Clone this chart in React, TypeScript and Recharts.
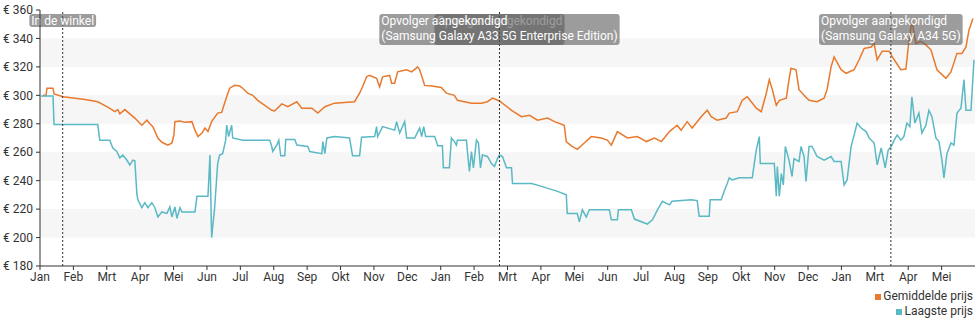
import React from 'react';
import { LineChart, Line, XAxis, YAxis, ReferenceArea, ReferenceLine } from 'recharts';

// maanden op de x-as (index = maand sinds start)
const MAANDEN = [
  'Jan', 'Feb', 'Mrt', 'Apr', 'Mei', 'Jun', 'Jul', 'Aug', 'Sep', 'Okt', 'Nov', 'Dec',
  'Jan', 'Feb', 'Mrt', 'Apr', 'Mei', 'Jun', 'Jul', 'Aug', 'Sep', 'Okt', 'Nov', 'Dec',
  'Jan', 'Mrt', 'Apr', 'Mei',
];
const MAAND_TICKS = MAANDEN.map((_, i) => i);
const PRIJS_TICKS = [180, 200, 220, 240, 260, 280, 300, 320, 340, 360];
const BANDEN = [[200, 220], [240, 260], [280, 300], [320, 340]];

const GEMIDDELD_T = [
  0.09, 0.18, 0.21, 0.39, 0.42, 0.69, 1.05, 1.35, 1.73, 2.0,
  2.15, 2.24, 2.33, 2.39, 2.54, 2.69, 2.84, 3.05, 3.2, 3.29,
  3.38, 3.53, 3.65, 3.83, 3.95, 4.01, 4.04, 4.19, 4.34, 4.55,
  4.64, 4.73, 4.85, 4.94, 5.03, 5.14, 5.32, 5.44, 5.59, 5.68,
  5.83, 5.98, 6.07, 6.22, 6.37, 6.52, 6.73, 6.94, 7.03, 7.24,
  7.42, 7.69, 7.84, 8.14, 8.32, 8.53, 8.82, 9.12, 9.42, 9.57,
  9.66, 9.78, 9.87, 10.08, 10.17, 10.26, 10.47, 10.53, 10.62, 10.71,
  10.98, 11.13, 11.31, 11.37, 11.52, 11.73, 12.02, 12.17, 12.41, 12.5,
  12.92, 13.22, 13.4, 13.55, 13.76, 14.12, 14.42, 14.66, 14.9, 15.2,
  15.41, 15.7, 15.76, 15.91, 16.09, 16.3, 16.51, 16.81, 16.99, 17.11,
  17.29, 17.59, 17.89, 18.16, 18.4, 18.61, 18.85, 19.08, 19.2, 19.38,
  19.53, 19.8, 19.98, 20.1, 20.28, 20.55, 20.64, 20.88, 21.03, 21.18,
  21.3, 21.45, 21.6, 21.75, 21.84, 21.93, 22.05, 22.14, 22.35, 22.43,
  22.49, 22.64, 22.73, 22.88, 23.03, 23.27, 23.48, 23.57, 23.69, 23.78,
  23.99, 24.14, 24.38, 24.53, 24.68, 24.89, 24.98, 25.07, 25.22, 25.43,
  25.58, 25.78, 25.93, 26.02, 26.11, 26.23, 26.38, 26.53, 26.68, 26.86,
  27.13, 27.28, 27.46, 27.61, 27.73, 27.82, 27.94,
];
const GEMIDDELD_PRIJS = [
  300, 300, 305, 305, 301, 299, 298, 297, 295.5, 292,
  290, 288.5, 290, 287, 290, 287, 284, 279, 282.5, 280,
  278, 270, 267, 265, 266.5, 272, 281.5, 282, 281, 281.5,
  275.5, 271, 273.5, 277, 274.5, 281.5, 287.5, 288, 299, 305,
  307, 306.5, 305, 301.5, 300, 296.5, 293, 289.5, 289, 294,
  292, 295.5, 291, 291, 287.5, 292, 294.5, 295, 295.5, 301.5,
  306, 313, 314, 312, 306, 313, 314, 308.5, 308.5, 316.5,
  318, 316.5, 320, 318, 307, 306.5, 305.5, 301.5, 300, 296.5,
  294.5, 294.5, 295.5, 298, 296, 289.5, 285, 286, 282.5, 284,
  281.5, 279, 267.5, 264.5, 262, 266.5, 271, 270, 268.5, 265,
  274.5, 270, 271, 267.5, 270, 267.5, 274.5, 279, 275.5, 281.5,
  277, 285, 289.5, 285, 282.5, 284, 287.5, 288.5, 296.5, 299,
  295.5, 291, 288.5, 301.5, 311, 304, 293, 296.5, 298, 311,
  319, 318, 304, 300, 296.5, 295.5, 298, 304, 320, 327,
  318, 315.5, 318, 325, 333, 334, 336.5, 325, 331, 331,
  325, 318, 318.5, 338, 352, 336.5, 338, 335.5, 332, 318,
  312, 316.5, 329.5, 329.5, 334, 346, 354,
];

const LAAGSTE_T = [
  0.03, 0.39, 0.42, 1.73, 1.79, 2.09, 2.18, 2.3, 2.39, 2.48,
  2.6, 2.69, 2.78, 2.84, 2.9, 2.93, 3.05, 3.14, 3.23, 3.35,
  3.44, 3.53, 3.65, 3.8, 3.89, 3.95, 4.04, 4.1, 4.19, 4.25,
  4.64, 4.7, 5.03, 5.09, 5.14, 5.23, 5.32, 5.38, 5.47, 5.56,
  5.59, 5.65, 5.68, 5.74, 5.77, 6.07, 6.88, 6.94, 6.97, 7.09,
  7.15, 7.21, 7.33, 7.36, 7.63, 7.69, 8.02, 8.08, 8.44, 8.47,
  8.53, 8.59, 8.82, 9.27, 9.36, 9.57, 9.63, 10.02, 10.08, 10.11,
  10.26, 10.62, 10.68, 10.77, 10.92, 10.98, 11.22, 11.37, 11.43, 11.49,
  11.55, 11.82, 11.91, 12.05, 12.08, 12.26, 12.32, 12.41, 12.47, 12.5,
  12.77, 12.8, 12.86, 12.92, 12.98, 13.07, 13.13, 13.19, 13.25, 13.4,
  13.52, 13.61, 13.7, 13.76, 13.85, 13.97, 14.12, 14.15, 14.72, 15.02,
  15.5, 15.76, 15.79, 16.09, 16.15, 16.24, 16.36, 16.45, 17.05, 17.11,
  17.29, 17.32, 17.71, 17.8, 18.19, 18.34, 18.49, 18.64, 18.85, 18.93,
  19.5, 19.68, 19.74, 20.04, 20.07, 20.4, 20.49, 20.58, 20.64, 20.73,
  20.94, 21.33, 21.39, 21.45, 21.54, 21.57, 21.99, 22.05, 22.08, 22.14,
  22.2, 22.26, 22.32, 22.43, 22.52, 22.58, 22.73, 22.79, 22.88, 22.94,
  23.03, 23.12, 23.27, 23.48, 23.69, 23.78, 23.99, 24.08, 24.17, 24.29,
  24.38, 24.47, 24.59, 24.74, 24.83, 24.98, 25.07, 25.19, 25.31, 25.4,
  25.49, 25.58, 25.67, 25.78, 25.87, 25.96, 26.05, 26.11, 26.2, 26.32,
  26.41, 26.53, 26.62, 26.71, 26.83, 26.92, 27.01, 27.07, 27.16, 27.28,
  27.37, 27.46, 27.58, 27.67, 27.73, 27.88, 27.97,
];
const LAAGSTE_PRIJS = [
  299.5, 299.5, 279.5, 279.5, 268.5, 268.5, 263, 260.5, 256, 258,
  254.5, 251, 254.5, 254, 231, 226.5, 221, 224.5, 221, 224.5,
  221, 214.5, 218, 217, 221.5, 214.5, 221.5, 213.5, 221, 218,
  218, 229, 229, 258, 200, 221, 252, 258, 259, 268.5,
  279, 271, 274, 279, 270, 268.5, 268.5, 264, 260.5, 265,
  268.5, 257.5, 257.5, 269, 269, 265, 264, 260.5, 259, 267.5,
  259, 270, 271, 270, 257.5, 257.5, 270.5, 271, 278, 271,
  278, 275.5, 281.5, 273.5, 281.5, 270, 270, 277, 271, 278,
  271, 271, 264.5, 264.5, 249, 249, 270, 267.5, 265, 268.5,
  268.5, 260.5, 246.5, 260.5, 249, 268.5, 266.5, 249, 258, 257,
  252, 250, 255.5, 258, 257, 249, 249, 238, 238, 236,
  232.5, 230, 217, 217, 211, 219.5, 214.5, 219.5, 219.5, 212.5,
  212.5, 219.5, 219.5, 213, 209.5, 212.5, 219.5, 225.5, 223, 225.5,
  226.5, 226, 215, 215, 226.5, 226.5, 232.5, 238, 242, 240.5,
  242, 242, 252, 261.5, 271, 252, 252, 229, 250, 229,
  245, 237, 264, 254.5, 243, 255.5, 253.5, 264, 257, 239.5,
  264, 264, 257, 254.5, 257, 253.5, 253.5, 237, 240.5, 264,
  272, 280.5, 277, 274.5, 270, 266.5, 251, 263, 249, 261.5,
  264, 268.5, 272, 268.5, 271, 280.5, 278, 299, 280.5, 287.5,
  273.5, 279, 289.5, 285, 270, 267.5, 254.5, 242, 259, 266.5,
  265, 287.5, 291, 311, 289.5, 289.5, 325,
];

const GEBEURTENISSEN = [
  { t: 0.68, regels: ['In de winkel'] },
  { t: 13.76, regels: ['Opvolger aangekondigd', ''] },
  { t: 13.76, regels: ['Opvolger aangekondigd', '(Samsung Galaxy A33 5G Enterprise Edition)'] },
  { t: 25.48, regels: ['Opvolger aangekondigd', '(Samsung Galaxy A34 5G)'] },
];

const gemiddeld = GEMIDDELD_T.map((t, i) => ({ t, prijs: GEMIDDELD_PRIJS[i] }));
const laagste = LAAGSTE_T.map((t, i) => ({ t, prijs: LAAGSTE_PRIJS[i] }));

const ORANJE = '#e8792d';
const TEAL = '#5ab9c4';

let ctx: CanvasRenderingContext2D | null = null;
function tekstBreedte(s: string) {
  if (!ctx) ctx = document.createElement('canvas').getContext('2d');
  if (!ctx) return s.length * 6;
  ctx.font = '12px Roboto';
  return ctx.measureText(s).width;
}

function GebeurtenisLabel(props: any) {
  const { viewBox, regels } = props;
  if (!viewBox) return null;
  const x = viewBox.x;
  const top = Math.min(viewBox.y, viewBox.y + (viewBox.height || 0)) + 4;
  const w = Math.max(...regels.map(tekstBreedte)) + 4;
  const h = regels.length > 1 ? 31 : 13;
  return (
    <g>
      <rect x={x - w / 2} y={top} width={w} height={h} rx={3} fill="rgba(90,90,90,0.6)" />
      {regels.map((r: string, i: number) =>
        r ? (
          <text key={i} x={x - w / 2 + 2} y={top + 11 + i * 15} fill="#fff" fontSize={12} fontFamily="Roboto">
            {r}
          </text>
        ) : null
      )}
    </g>
  );
}

export default function App() {
  return (
    <div style={{ position: 'absolute', left: 0, top: 0, width: 980, height: 325, background: '#fff', fontFamily: 'Roboto' }}>
      <LineChart width={980} height={325} margin={{ top: 10, right: 5, left: 0, bottom: 39 }}>
        {BANDEN.map(([a, b]) => (
          <ReferenceArea key={a} y1={a} y2={b} fill="#f6f6f6" fillOpacity={1} stroke="none" />
        ))}
        <XAxis
          type="number"
          dataKey="t"
          domain={[0, 28]}
          ticks={MAAND_TICKS}
          interval={0}
          allowDataOverflow
          tickFormatter={(v: number) => MAANDEN[v]}
          tick={{ fontSize: 12, fill: '#333' }}
          tickSize={4}
          tickMargin={2}
          stroke="#333"
          height={20}
        />
        <YAxis
          domain={[180, 360]}
          ticks={PRIJS_TICKS}
          interval={0}
          allowDataOverflow
          tickFormatter={(v: number) => `€ ${v}`}
          tick={{ fontSize: 12, fill: '#333' }}
          tickSize={4}
          tickMargin={3}
          stroke="#333"
          width={40}
        />
        <Line data={gemiddeld} dataKey="prijs" stroke={ORANJE} strokeWidth={1.5} dot={false} activeDot={false} isAnimationActive={false} />
        <Line data={laagste} dataKey="prijs" stroke={TEAL} strokeWidth={1.5} dot={false} activeDot={false} isAnimationActive={false} />
        {GEBEURTENISSEN.map((g, i) => (
          <ReferenceLine
            key={i}
            x={g.t}
            stroke="#333"
            strokeDasharray="2 2"
            label={<GebeurtenisLabel regels={g.regels} />}
          />
        ))}
      </LineChart>
      <div style={{ position: 'absolute', right: 7, top: 289, fontSize: 12, lineHeight: '14.5px', color: '#333', textAlign: 'right' }}>
        <div>
          <span style={{ display: 'inline-block', width: 6, height: 6, background: ORANJE, marginRight: 2 }} />
          Gemiddelde prijs
        </div>
        <div>
          <span style={{ display: 'inline-block', width: 6, height: 6, background: TEAL, marginRight: 2 }} />
          Laagste prijs
        </div>
      </div>
    </div>
  );
}
